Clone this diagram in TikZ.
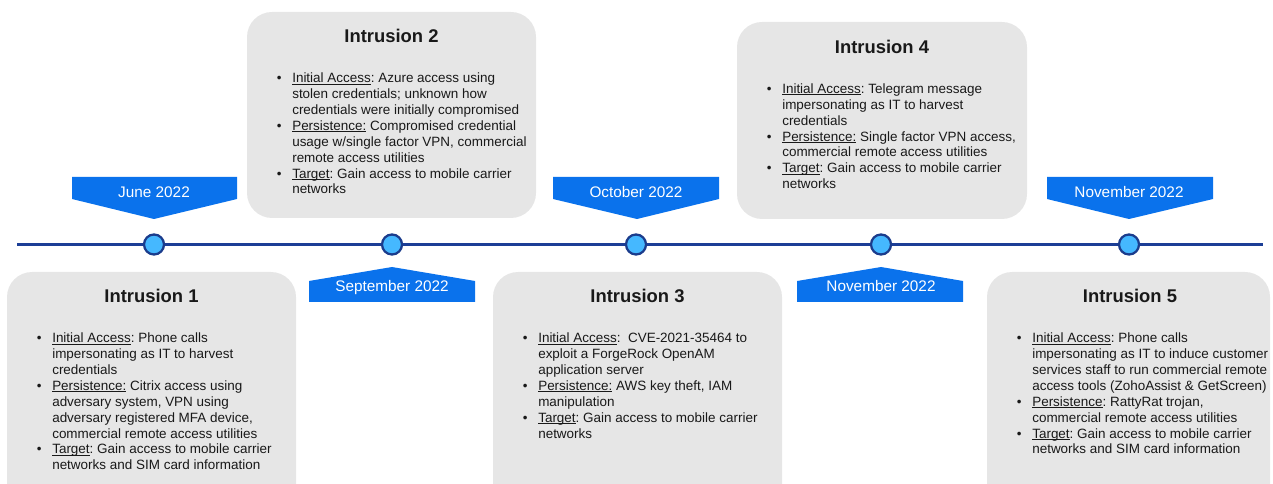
\documentclass[tikz,border=0pt]{standalone}
\usepackage{fontspec}
\setmainfont{Liberation Sans}
\frenchspacing
\definecolor{bannerblue}{HTML}{0A72EC}
\definecolor{boxgray}{HTML}{E6E6E6}
\definecolor{linedark}{HTML}{1C3E96}
\definecolor{dotfill}{HTML}{45B8FF}
\definecolor{dotedge}{HTML}{1B3C8C}
\newcommand{\myul}[1]{\setbox0\hbox{#1}\rlap{\rule[-1.3pt]{\wd0}{0.5pt}}\box0\relax}
\newcommand{\bul}{\makebox[11.55pt][l]{\textbullet}}
\tikzset{
  intrbox/.style={fill=boxgray, rounded corners=18.75pt},
  intrtitle/.style={anchor=base, inner sep=0pt, font=\bfseries\fontsize{13.8}{16}\selectfont, text=black!90},
  itemtext/.style={anchor=base west, inner sep=0pt, font=\frenchspacing\fontsize{10.1}{11.93}\selectfont, text=black!90},
  bannerdown/.style={fill=bannerblue},
  bannertext/.style={anchor=base, inner sep=0pt, text=white, font=\fontsize{11.5}{13}\selectfont},
  tdot/.style={circle, fill=dotfill, draw=dotedge, line width=1.7pt, minimum size=20*0.75pt, inner sep=0pt},
}
\begin{document}
\begin{tikzpicture}[x=0.75pt, y=-0.75pt]
\useasboundingbox (0,0) rectangle (1273,484);
\clip (0,0) rectangle (1273,484);

% boxes
\path[intrbox] (7,272) rectangle (296,510);
\path[intrbox] (247,12) rectangle (536,218);
\path[intrbox] (493,272) rectangle (782,510);
\path[intrbox] (737,22) rectangle (1027,219);
\path[intrbox] (987,272) rectangle (1270,510);

% titles
\node[intrtitle] (t1) at (151.5,302.7) {Intrusion 1};
\node[intrtitle] (t2) at (391.5,42.7) {Intrusion 2};
\node[intrtitle] (t3) at (637.5,302.7) {Intrusion 3};
\node[intrtitle] (t4) at (882,53.3) {Intrusion 4};
\node[intrtitle] (t5) at (1130,302.7) {Intrusion 5};

% bullet texts
\node[itemtext] (l1) at (36.6,342.6) {\begin{tabular}[t]{@{}l@{}l@{}}
\bul & \myul{Initial Access}: Phone calls\\
 & impersonating as IT to harvest\\
 & credentials\\
\bul & \myul{Persistence:} Citrix access using\\
 & adversary system, VPN using\\
 & adversary registered MFA device,\\
 & commercial remote access utilities\\
\bul & \myul{Target}: Gain access to mobile carrier\\
 & networks and SIM card information
\end{tabular}};

\node[itemtext] (l2) at (276.6,82.6) {\begin{tabular}[t]{@{}l@{}l@{}}
\bul & \myul{Initial Access}: Azure access using\\
 & stolen credentials; unknown how\\
 & credentials were initially compromised\\
\bul & \myul{Persistence:} Compromised credential\\
 & usage w/single factor VPN, commercial\\
 & remote access utilities\\
\bul & \myul{Target}: Gain access to mobile carrier\\
 & networks
\end{tabular}};

\node[itemtext] (l3) at (522.6,342.6) {\begin{tabular}[t]{@{}l@{}l@{}}
\bul & \myul{Initial Access}: \ CVE-2021-35464 to\\
 & exploit a ForgeRock OpenAM\\
 & application server\\
\bul & \myul{Persistence:} AWS key theft, IAM\\
 & manipulation\\
\bul & \myul{Target}: Gain access to mobile carrier\\
 & networks
\end{tabular}};

\node[itemtext] (l4) at (766.6,93.3) {\begin{tabular}[t]{@{}l@{}l@{}}
\bul & \myul{Initial Access}: Telegram message\\
 & impersonating as IT to harvest\\
 & credentials\\
\bul & \myul{Persistence:} Single factor VPN access,\\
 & commercial remote access utilities\\
\bul & \myul{Target}: Gain access to mobile carrier\\
 & networks
\end{tabular}};

\node[itemtext] (l5) at (1016.6,342.6) {\begin{tabular}[t]{@{}l@{}l@{}}
\bul & \myul{Initial Access}: Phone calls\\
 & impersonating as IT to induce customer\\
 & services staff to run commercial remote\\
 & access tools (ZohoAssist \& GetScreen)\\
\bul & \myul{Persistence}: RattyRat trojan,\\
 & commercial remote access utilities\\
\bul & \myul{Target}: Gain access to mobile carrier\\
 & networks and SIM card information
\end{tabular}};

% timeline
\coordinate (ls) at (17,244.5);
\coordinate (le) at (1263,244.5);
\draw[linedark, line width=1.9pt] (ls) -- (le);
\node[tdot] (d1) at (154,244.5) {};
\node[tdot] (d2) at (392,244.5) {};
\node[tdot] (d3) at (636,244.5) {};
\node[tdot] (d4) at (881,244.5) {};
\node[tdot] (d5) at (1129,244.5) {};

% banners above
\fill[bannerdown] (72,177) -- (237,177) -- (237,199) -- (154,219) -- (72,199) -- cycle;
\node[bannertext] (m1) at (154,198) {June 2022};
\fill[bannerdown] (553,177) -- (719,177) -- (719,199) -- (637,219) -- (553,199) -- cycle;
\node[bannertext] (m3) at (636,198) {October 2022};
\fill[bannerdown] (1047,177) -- (1213,177) -- (1213,199) -- (1129,219) -- (1047,199) -- cycle;
\node[bannertext] (m5) at (1129,198) {November 2022};
% banners below
\fill[bannerdown] (309,302) -- (475,302) -- (475,281) -- (392,267) -- (309,281) -- cycle;
\node[bannertext] (m2) at (392,291.7) {September 2022};
\fill[bannerdown] (797,302) -- (963,302) -- (963,281) -- (881,267) -- (797,281) -- cycle;
\node[bannertext] (m4) at (881,291.7) {November 2022};
\end{tikzpicture}
\end{document}
